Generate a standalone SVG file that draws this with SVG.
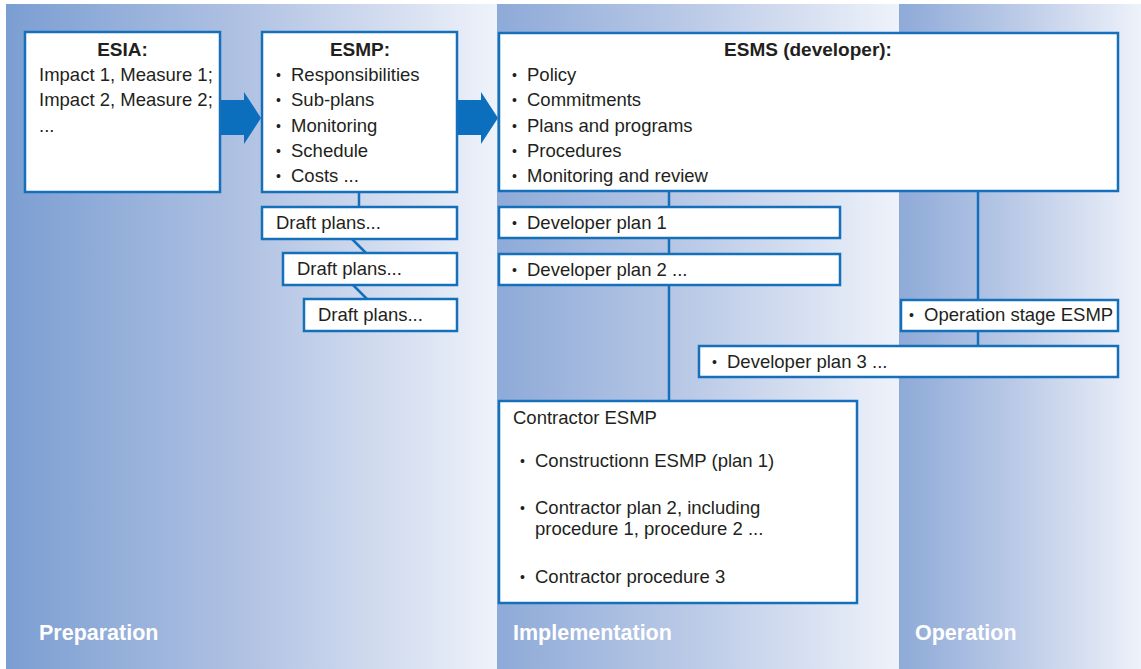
<svg xmlns="http://www.w3.org/2000/svg" width="1141" height="669" viewBox="0 0 1141 669">
<defs>
<linearGradient id="g1" x1="0" y1="0" x2="1" y2="0">
<stop offset="0" stop-color="#7b9ed2"/>
<stop offset="0.5" stop-color="#b2c3e3"/>
<stop offset="1" stop-color="#eef2fa"/>
</linearGradient>
<linearGradient id="g2" x1="0" y1="0" x2="1" y2="0">
<stop offset="0" stop-color="#8eaad8"/>
<stop offset="0.5" stop-color="#bccbe7"/>
<stop offset="1" stop-color="#eef2fa"/>
</linearGradient>
<style>
.box{fill:#fff;stroke:#1470ba;stroke-width:2.5}
.t{font-family:"Liberation Sans",Arial,sans-serif;font-size:18.5px;fill:#231f20}
.b{font-weight:bold;text-anchor:middle;font-size:19px}
.bu{font-family:"Liberation Sans",Arial,sans-serif;font-size:14px;fill:#231f20}
.ph{font-family:"Liberation Sans",Arial,sans-serif;font-size:21.5px;font-weight:bold;fill:#fff}
.ln{stroke:#1470ba;stroke-width:2.5;fill:none}
.ar{fill:#0b6fbd}
</style>
</defs>
<g id="background">
<rect x="6" y="4" width="491" height="665" fill="url(#g1)"/>
<rect x="497" y="4" width="402" height="665" fill="url(#g2)"/>
<rect x="899" y="4" width="242" height="665" fill="url(#g2)"/>
<text class="ph" x="39" y="640">Preparation</text>
<text class="ph" x="513" y="640">Implementation</text>
<text class="ph" x="915" y="640">Operation</text>
</g>
<g id="connectors">
<polygon class="ar" points="220,100 244,100 244,92 261,118 244,144 244,135 220,135"/>
<polygon class="ar" points="457,100 481,100 481,92 498,118 481,144 481,135 457,135"/>
<line class="ln" x1="359" y1="192" x2="359" y2="207"/>
<line class="ln" x1="352" y1="239" x2="366" y2="253"/>
<line class="ln" x1="353" y1="285" x2="367" y2="299"/>
<line class="ln" x1="669" y1="191" x2="669" y2="401"/>
<line class="ln" x1="978" y1="191" x2="978" y2="346"/>
</g>
<g id="esia">
<rect class="box" x="25" y="32" width="195" height="160"/>
<text class="t b" x="122.5" y="56">ESIA:</text>
<text class="t" x="39" y="81">Impact 1, Measure 1;</text>
<text class="t" x="39" y="106">Impact 2, Measure 2;</text>
<text class="t" x="39" y="132">...</text>
</g>
<g id="esmp">
<rect class="box" x="262" y="32" width="195" height="160"/>
<text class="t b" x="360" y="56">ESMP:</text>
<text class="bu" x="276" y="80">•</text><text class="t" x="291" y="81">Responsibilities</text>
<text class="bu" x="276" y="105">•</text><text class="t" x="291" y="106">Sub-plans</text>
<text class="bu" x="276" y="131">•</text><text class="t" x="291" y="132">Monitoring</text>
<text class="bu" x="276" y="156">•</text><text class="t" x="291" y="157">Schedule</text>
<text class="bu" x="276" y="181">•</text><text class="t" x="291" y="182">Costs ...</text>
</g>
<g id="draft1">
<rect class="box" x="262" y="207" width="195" height="32"/>
<text class="t" x="276" y="229">Draft plans...</text>
</g>
<g id="draft2">
<rect class="box" x="283" y="253" width="174" height="32"/>
<text class="t" x="297" y="275">Draft plans...</text>
</g>
<g id="draft3">
<rect class="box" x="304" y="299" width="153" height="32"/>
<text class="t" x="318" y="321">Draft plans...</text>
</g>
<g id="esms">
<rect class="box" x="499" y="33" width="619" height="158"/>
<text class="t b" x="808" y="56">ESMS (developer):</text>
<text class="bu" x="512" y="80">•</text><text class="t" x="527" y="81">Policy</text>
<text class="bu" x="512" y="105">•</text><text class="t" x="527" y="106">Commitments</text>
<text class="bu" x="512" y="131">•</text><text class="t" x="527" y="132">Plans and programs</text>
<text class="bu" x="512" y="156">•</text><text class="t" x="527" y="157">Procedures</text>
<text class="bu" x="512" y="181">•</text><text class="t" x="527" y="182">Monitoring and review</text>
</g>
<g id="devplan1">
<rect class="box" x="499" y="207" width="341" height="31"/>
<text class="bu" x="512" y="228">•</text><text class="t" x="527" y="229">Developer plan 1</text>
</g>
<g id="devplan2">
<rect class="box" x="499" y="254" width="341" height="31"/>
<text class="bu" x="512" y="275">•</text><text class="t" x="527" y="276">Developer plan 2 ...</text>
</g>
<g id="opesmp">
<rect class="box" x="901" y="300" width="217" height="31"/>
<text class="bu" x="909" y="320">•</text><text class="t" x="924" y="321">Operation stage ESMP</text>
</g>
<g id="devplan3">
<rect class="box" x="699" y="346" width="419" height="31"/>
<text class="bu" x="712" y="367">•</text><text class="t" x="727" y="368">Developer plan 3 ...</text>
</g>
<g id="contractor">
<rect class="box" x="499" y="401" width="358" height="202"/>
<text class="t" x="513" y="424">Contractor ESMP</text>
<text class="bu" x="520" y="466">•</text><text class="t" x="535" y="467">Constructionn ESMP (plan 1)</text>
<text class="bu" x="520" y="513">•</text><text class="t" x="535" y="514">Contractor plan 2, including</text>
<text class="t" x="535" y="535">procedure 1, procedure 2 ...</text>
<text class="bu" x="520" y="582">•</text><text class="t" x="535" y="583">Contractor procedure 3</text>
</g>
</svg>
